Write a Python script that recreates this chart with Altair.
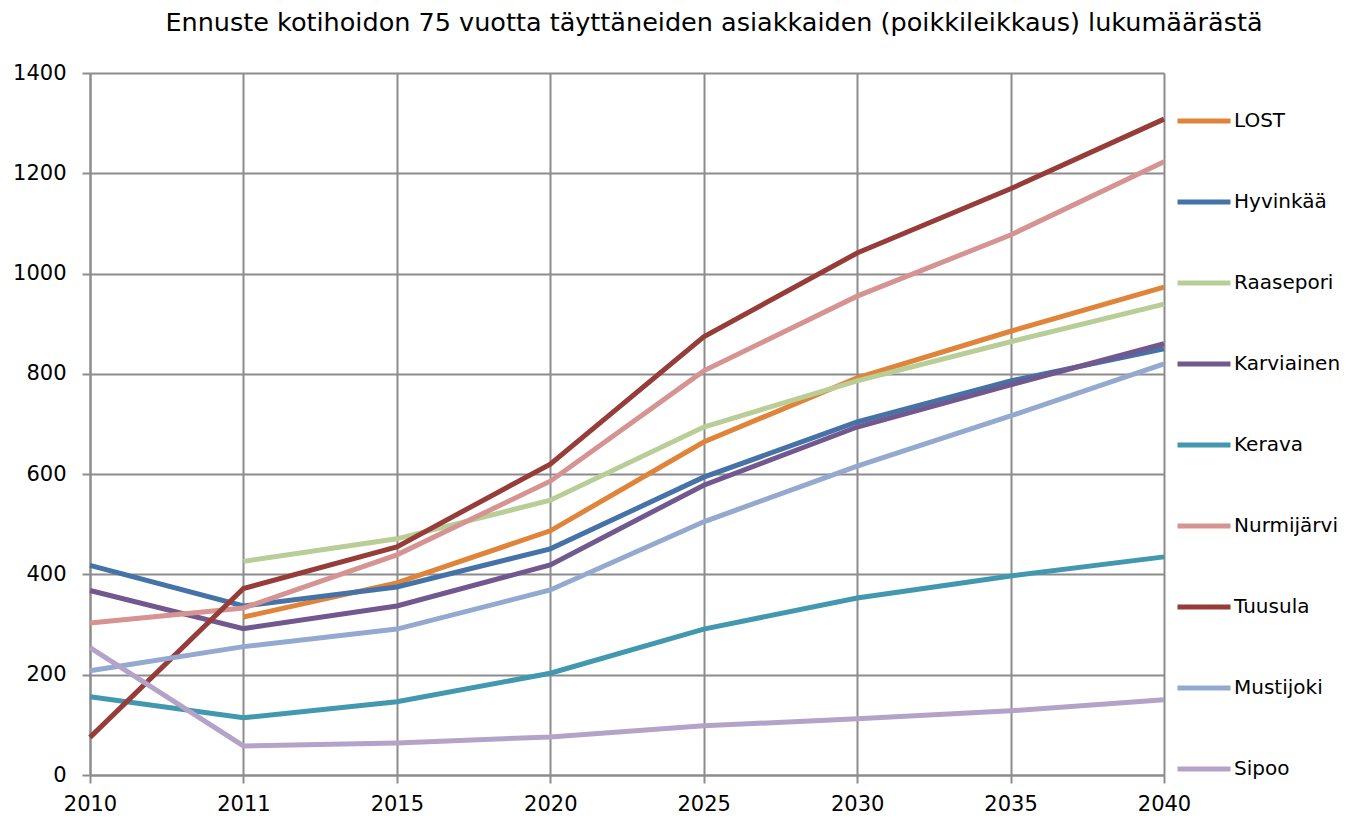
import altair as alt
import pandas as pd

years = ["2010", "2011", "2015", "2020", "2025", "2030", "2035", "2040"]
series_names = ["LOST", "Hyvinkää", "Raasepori", "Karviainen", "Kerava",
                "Nurmijärvi", "Tuusula", "Mustijoki", "Sipoo"]
colors = ["#E0843A", "#4572A7", "#B9CD96", "#71588F", "#4198AF",
          "#D59391", "#963C39", "#93A9CF", "#B3A3C8"]

lost = [None, 315, 383, 487, 664, 792, 885, 973]
hyvinkaa = [418, 337, 375, 451, 594, 704, 786, 850]
raasepori = [None, 426, 471, 548, 694, 786, 864, 939]
karviainen = [368, 292, 337, 419, 578, 694, 778, 860]
kerava = [156, 114, 146, 203, 291, 353, 397, 435]
nurmijarvi = [303, 333, 439, 586, 806, 955, 1077, 1223]
tuusula = [75, 372, 455, 620, 874, 1041, 1169, 1308]
mustijoki = [208, 256, 291, 369, 505, 616, 716, 820]
sipoo = [254, 58, 64, 76, 98, 112, 128, 150]

all_series = [lost, hyvinkaa, raasepori, karviainen, kerava,
              nurmijarvi, tuusula, mustijoki, sipoo]

rows = []
for i, (name, vals) in enumerate(zip(series_names, all_series)):
    for yr, v in zip(years, vals):
        if v is not None:
            rows.append({"Vuosi": yr, "Kunta": name, "Arvo": v, "ord": i})
df = pd.DataFrame(rows)

FONT = "DejaVu Sans"
GRID = "#8C8C8C"
LBL = 21

chart = alt.Chart(df).mark_line(strokeWidth=5, strokeJoin="miter", strokeCap="butt").encode(
    x=alt.X("Vuosi:N", sort=years, scale=alt.Scale(type="point", padding=0),
            axis=alt.Axis(title=None, labelAngle=0, grid=True, gridColor=GRID, gridWidth=2,
                          domainColor=GRID, domainWidth=2, tickColor=GRID, tickWidth=2,
                          tickSize=8, labelPadding=10, labelFontSize=LBL, labelFont=FONT,
                          labelColor="black", labelOverlap=False, labelFlush=False)),
    y=alt.Y("Arvo:Q", scale=alt.Scale(domain=[0, 1400], nice=False),
            axis=alt.Axis(title=None, values=[0, 200, 400, 600, 800, 1000, 1200, 1400],
                          format="d",
                          grid=True, gridColor=GRID, gridWidth=2,
                          domainColor=GRID, domainWidth=2, tickColor=GRID, tickWidth=2,
                          tickSize=8, labelPadding=16, labelFontSize=LBL, labelFont=FONT,
                          labelColor="black")),
    color=alt.Color("Kunta:N", sort=series_names,
                    scale=alt.Scale(domain=series_names, range=colors),
                    legend=alt.Legend(title=None, orient="none", legendX=1085, legendY=19,
                                      direction="vertical", symbolType="stroke",
                                      symbolSize=2809, symbolStrokeWidth=5,
                                      labelFontSize=20, labelFont=FONT, labelColor="black",
                                      labelOffset=1, rowPadding=42, padding=0,
                                      labelLimit=200)),
    order=alt.Order("ord:Q"),
    detail="Kunta:N",
).properties(
    width=1074,
    height=702,
    title=alt.TitleParams(
        "Ennuste kotihoidon 75 vuotta täyttäneiden asiakkaiden (poikkileikkaus) lukumäärästä",
        fontSize=25.5, font=FONT, fontWeight="normal", color="black",
        anchor="middle", dx=87, offset=26),
    autosize=alt.AutoSizeParams(type="none"),
    padding={"left": 82, "top": 65, "right": 180, "bottom": 50},
).configure_view(stroke=None)

chart.save("out.html", embed_options={"renderer": "svg", "actions": False})
